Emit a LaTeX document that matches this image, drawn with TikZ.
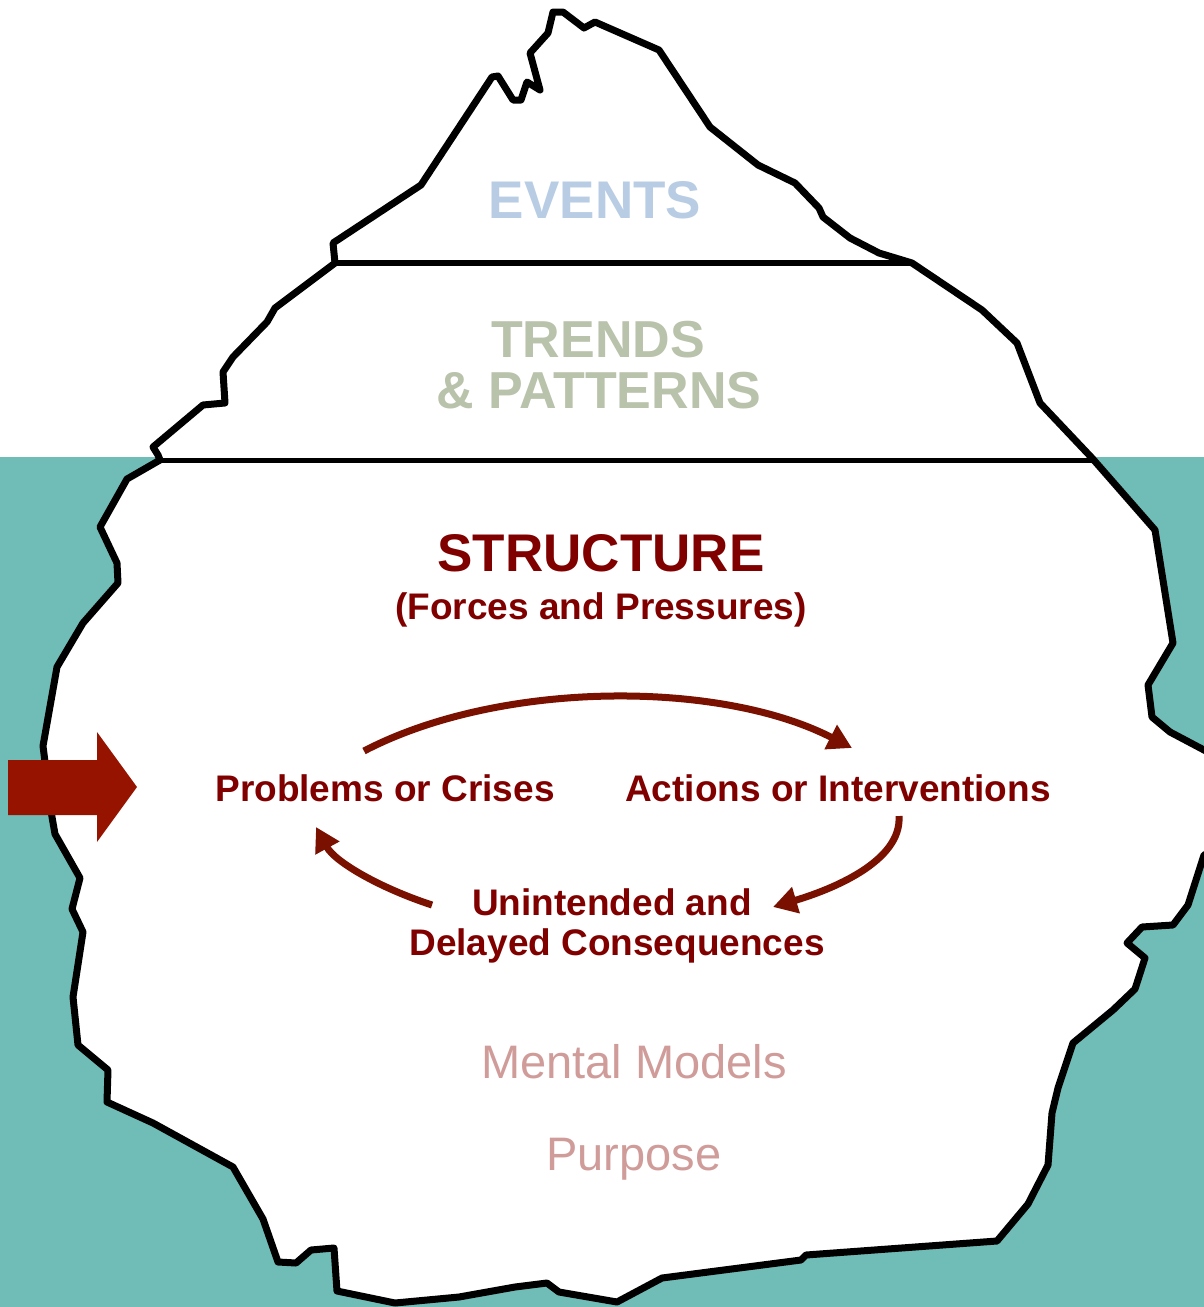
\documentclass[tikz,border=0pt]{standalone}
\usepackage{fontspec}
\setmainfont{Liberation Sans}
\usetikzlibrary{arrows.meta}

\definecolor{water}{HTML}{70BCB7}
\definecolor{eventsblue}{HTML}{B8CCE4}
\definecolor{trendsgreen}{HTML}{B9C2AA}
\definecolor{structred}{HTML}{800000}
\definecolor{loopred}{HTML}{7A1000}
\definecolor{pointred}{HTML}{961300}
\definecolor{modelpink}{HTML}{D09C9A}

\tikzset{
  berg/.style={draw=black, fill=white, line width=7pt, line join=round},
  layerline/.style={draw=black, line width=6pt},
  bigtitle/.style={anchor=base, inner sep=0pt, font=\fontsize{53}{53}\selectfont\bfseries},
  looplabel/.style={anchor=base, inner sep=0pt, text=structred, font=\fontsize{37}{40}\selectfont\bfseries},
  deeplabel/.style={anchor=base, inner sep=0pt, text=modelpink, font=\fontsize{47}{47}\selectfont},
  looparrow/.style={draw=loopred, line width=7pt, -{Triangle[length=24pt,width=26pt]}},
}

\begin{document}
\begin{tikzpicture}[x=1pt,y=-1pt]
\useasboundingbox (0,0) rectangle (1204,1307);

% sky and sea
\fill[white] (0,0) rectangle (1204,457);
\fill[water] (0,457) rectangle (1204,1307);

% iceberg outline
\path[berg] (333,243) -- (421,185) -- (492,77) -- (498,76) -- (513,100) -- (521,100)
  -- (527,82) -- (540,90) -- (530,53) -- (548,33) -- (553,12) -- (563,12)
  -- (584,28) -- (595,22) -- (659,50) -- (710,127) -- (758,165) -- (795,183)
  -- (819,208) -- (823,217) -- (850,238) -- (879,253) -- (912,263)
  -- (982,310) -- (1017,343) -- (1040,403) -- (1092,458) -- (1155,530)
  -- (1173,643) -- (1148,685) -- (1152,717) -- (1170,732) -- (1204,750)
  -- (1232,765) -- (1232,845) -- (1204,855)
  -- (1188,905) -- (1173,925) -- (1142,927) -- (1127,943) -- (1145,958)
  -- (1135,989) -- (1113,1010) -- (1073,1043) -- (1058,1088) -- (1052,1113)
  -- (1048,1165) -- (1028,1204) -- (997,1241) -- (806,1255) -- (801,1260)
  -- (662,1278) -- (617,1302) -- (559,1292) -- (547,1283) -- (515,1287)
  -- (459,1297) -- (395,1303) -- (337,1291) -- (334,1248) -- (311,1250)
  -- (296,1263) -- (278,1262) -- (263,1219) -- (233,1167) -- (153,1123)
  -- (107,1102) -- (108,1070) -- (78,1045) -- (73,997) -- (83,932)
  -- (72,909) -- (80,878) -- (55,834) -- (52,817) -- (43,746) -- (57,667)
  -- (83,623) -- (118,583) -- (117,563) -- (100,527) -- (127,479)
  -- (160,460) -- (158,455) -- (153,447) -- (203,405) -- (225,403)
  -- (223,372) -- (233,357) -- (267,322) -- (275,308) -- (335,263) -- cycle;

% layer boundaries
\draw[layerline] (335,263) -- (912,263);
\draw[layerline, line width=5pt] (160,460) -- (1092,460);

% layer titles
\node[bigtitle, text=eventsblue] (events) at (595,218) {EVENTS};
\node[bigtitle, text=trendsgreen, font=\fontsize{52}{52}\selectfont\bfseries] (trends) at (598,357) {TRENDS};
\node[bigtitle, text=trendsgreen, font=\fontsize{52}{52}\selectfont\bfseries] (patterns) at (599,408) {\& PATTERNS};
\node[bigtitle, text=structred] (structure) at (601,571) {STRUCTURE};
\node[looplabel] (forces) at (601,619) {(Forces and Pressures)};

% reinforcing loop
\node[looplabel] (problems) at (385,801) {Problems or Crises};
\node[looplabel] (actions) at (838,801) {Actions or Interventions};
\node[looplabel] (unintended) at (612,915) {Unintended and};
\node[looplabel] (delayed) at (617,955) {Delayed Consequences};

\coordinate (pOut) at (364,751);
\coordinate (aIn) at (852,748);
\coordinate (aOut) at (899,816);
\coordinate (uIn) at (773,907);
\coordinate (uOut) at (432,905);
\coordinate (pIn) at (316,827);

\draw[looparrow] (pOut) .. controls (500,680) and (720,680) .. (aIn);
\draw[looparrow] (aOut) .. controls (902,862) and (830,890) .. (uIn);
\draw[looparrow] (uOut) .. controls (380,888) and (335,862) .. (pIn);

% deeper layers
\node[deeplabel] (mental) at (634,1078) {Mental Models};
\node[deeplabel] (purpose) at (634,1170) {Purpose};

% pointer to the structure layer
\fill[pointred] (8,760) -- (97,760) -- (97,732) -- (137,787) -- (97,842)
  -- (97,815) -- (8,815) -- cycle;
\end{tikzpicture}
\end{document}
